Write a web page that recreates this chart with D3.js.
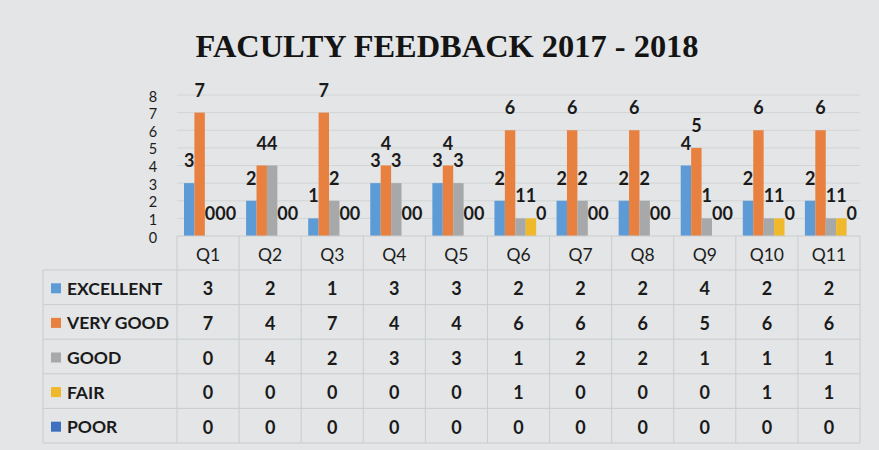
<!DOCTYPE html>
<html><head><meta charset="utf-8">
<script src="https://cdn.jsdelivr.net/npm/d3@7"></script>
<style>html,body{margin:0;padding:0;background:#e3e5e6;}svg{display:block;}</style>
</head><body>
<svg id="c" width="879" height="450"></svg>
<script>
const categories = ["Q1","Q2","Q3","Q4","Q5","Q6","Q7","Q8","Q9","Q10","Q11"];
const seriesNames = ["EXCELLENT","VERY GOOD","GOOD","FAIR","POOR"];
const excellent = [3,2,1,3,3,2,2,2,4,2,2];
const veryGood  = [7,4,7,4,4,6,6,6,5,6,6];
const good      = [0,4,2,3,3,1,2,2,1,1,1];
const fair      = [0,0,0,0,0,1,0,0,0,1,1];
const poor      = [0,0,0,0,0,0,0,0,0,0,0];
const yTicks = [0,1,2,3,4,5,6,7,8];
const title = "FACULTY FEEDBACK 2017 - 2018";

const seriesValues = [excellent, veryGood, good, fair, poor];
const colors = ["#5d9bd6","#e8803f","#a7a8a9","#f0b92c","#3f6fc0"];

const svg = d3.select("#c");
svg.append("rect").attr("width",879).attr("height",450).attr("fill","#e3e5e6");

// title
svg.append("text").attr("x",447).attr("y",57).attr("text-anchor","middle")
  .attr("font-family","Liberation Serif, serif").attr("font-weight","bold")
  .attr("font-size",31).attr("fill","#141414")
  .attr("textLength",503).attr("lengthAdjust","spacingAndGlyphs").text(title);

const plotLeft = 177, plotRight = 860, plotBase = 236, plotTop = 95;
const x0 = d3.scaleBand().domain(categories).range([plotLeft,plotRight]);
const bw = x0.bandwidth();
const x1 = d3.scaleBand().domain(seriesNames).range([7, bw-3]);
const y = d3.scaleLinear().domain([0,8]).range([plotBase, plotTop]);

// gridlines
svg.append("g").selectAll("line").data(yTicks.slice(1)).join("line")
  .attr("x1",plotLeft).attr("x2",plotRight).attr("y1",d=>y(d)).attr("y2",d=>y(d))
  .attr("stroke","#d2d4d6").attr("stroke-width",1);

// y labels
svg.append("g").selectAll("text").data(yTicks).join("text")
  .attr("x",153).attr("y",d=>y(d)+1).attr("text-anchor","middle")
  .attr("dominant-baseline","central")
  .attr("font-family","Lato, sans-serif").attr("font-size",14.5).attr("fill","#1c1c1c")
  .text(d=>d);

// bars
const flat = [];
categories.forEach((c,i)=>seriesNames.forEach((s,j)=>flat.push({c,s,j,v:seriesValues[j][i]})));
svg.append("g").selectAll("rect").data(flat).join("rect")
  .attr("x",d=>x0(d.c)+x1(d.s)).attr("width",x1.bandwidth())
  .attr("y",d=>y(d.v)).attr("height",d=>plotBase-y(d.v))
  .attr("fill",d=>colors[d.j]);

// data labels
svg.append("g").selectAll("text").data(flat).join("text")
  .attr("x",d=>x0(d.c)+x1(d.s)+x1.bandwidth()/2).attr("y",d=>y(d.v)-16)
  .attr("text-anchor","middle")
  .attr("font-family","Lato, sans-serif").attr("font-weight","bold")
  .attr("font-size",18).attr("fill","#1a1a1a").text(d=>d.v);

// table
const tblLeft = 43, rowH = 34.6, headTop = plotBase, headBot = 270;
const rowsY = seriesNames.map((s,j)=>headBot + j*rowH);
const tblBottom = headBot + 5*rowH;
const g = svg.append("g");
const lineC = "#c9ccce";
g.append("line").attr("x1",plotLeft).attr("x2",plotRight).attr("y1",headTop).attr("y2",headTop).attr("stroke",lineC);
[headBot, ...rowsY.slice(1), tblBottom].forEach(yy=>{
  g.append("line").attr("x1",tblLeft).attr("x2",plotRight).attr("y1",yy).attr("y2",yy).attr("stroke",lineC);
});
g.append("line").attr("x1",tblLeft).attr("x2",tblLeft).attr("y1",headBot).attr("y2",tblBottom).attr("stroke",lineC);
categories.forEach(c=>{
  g.append("line").attr("x1",x0(c)).attr("x2",x0(c)).attr("y1",headTop).attr("y2",tblBottom).attr("stroke",lineC);
});
g.append("line").attr("x1",plotRight).attr("x2",plotRight).attr("y1",headTop).attr("y2",tblBottom).attr("stroke",lineC);

// header
g.selectAll("text.h").data(categories).join("text").attr("class","h")
  .attr("x",c=>x0(c)+bw/2).attr("y",(headTop+headBot)/2+1).attr("text-anchor","middle")
  .attr("dominant-baseline","central")
  .attr("font-family","Lato, sans-serif").attr("font-size",17.5).attr("fill","#1c1c1c").text(c=>c);

// rows
seriesNames.forEach((s,j)=>{
  const cy = rowsY[j] + rowH/2 + 1;
  g.append("rect").attr("x",51).attr("y",cy-5).attr("width",10).attr("height",10).attr("fill",colors[j]);
  g.append("text").attr("x",67).attr("y",cy).attr("dominant-baseline","central")
    .attr("font-family","Lato, sans-serif").attr("font-weight","bold").attr("font-size",17.5)
    .attr("fill","#1a1a1a").text(s);
  g.selectAll("text.v"+j).data(seriesValues[j]).join("text").attr("class","v"+j)
    .attr("x",(d,i)=>x0(categories[i])+bw/2).attr("y",cy).attr("text-anchor","middle")
    .attr("dominant-baseline","central")
    .attr("font-family","Lato, sans-serif").attr("font-weight","bold").attr("font-size",18)
    .attr("fill","#1a1a1a").text(d=>d);
});
</script>
</body></html>
